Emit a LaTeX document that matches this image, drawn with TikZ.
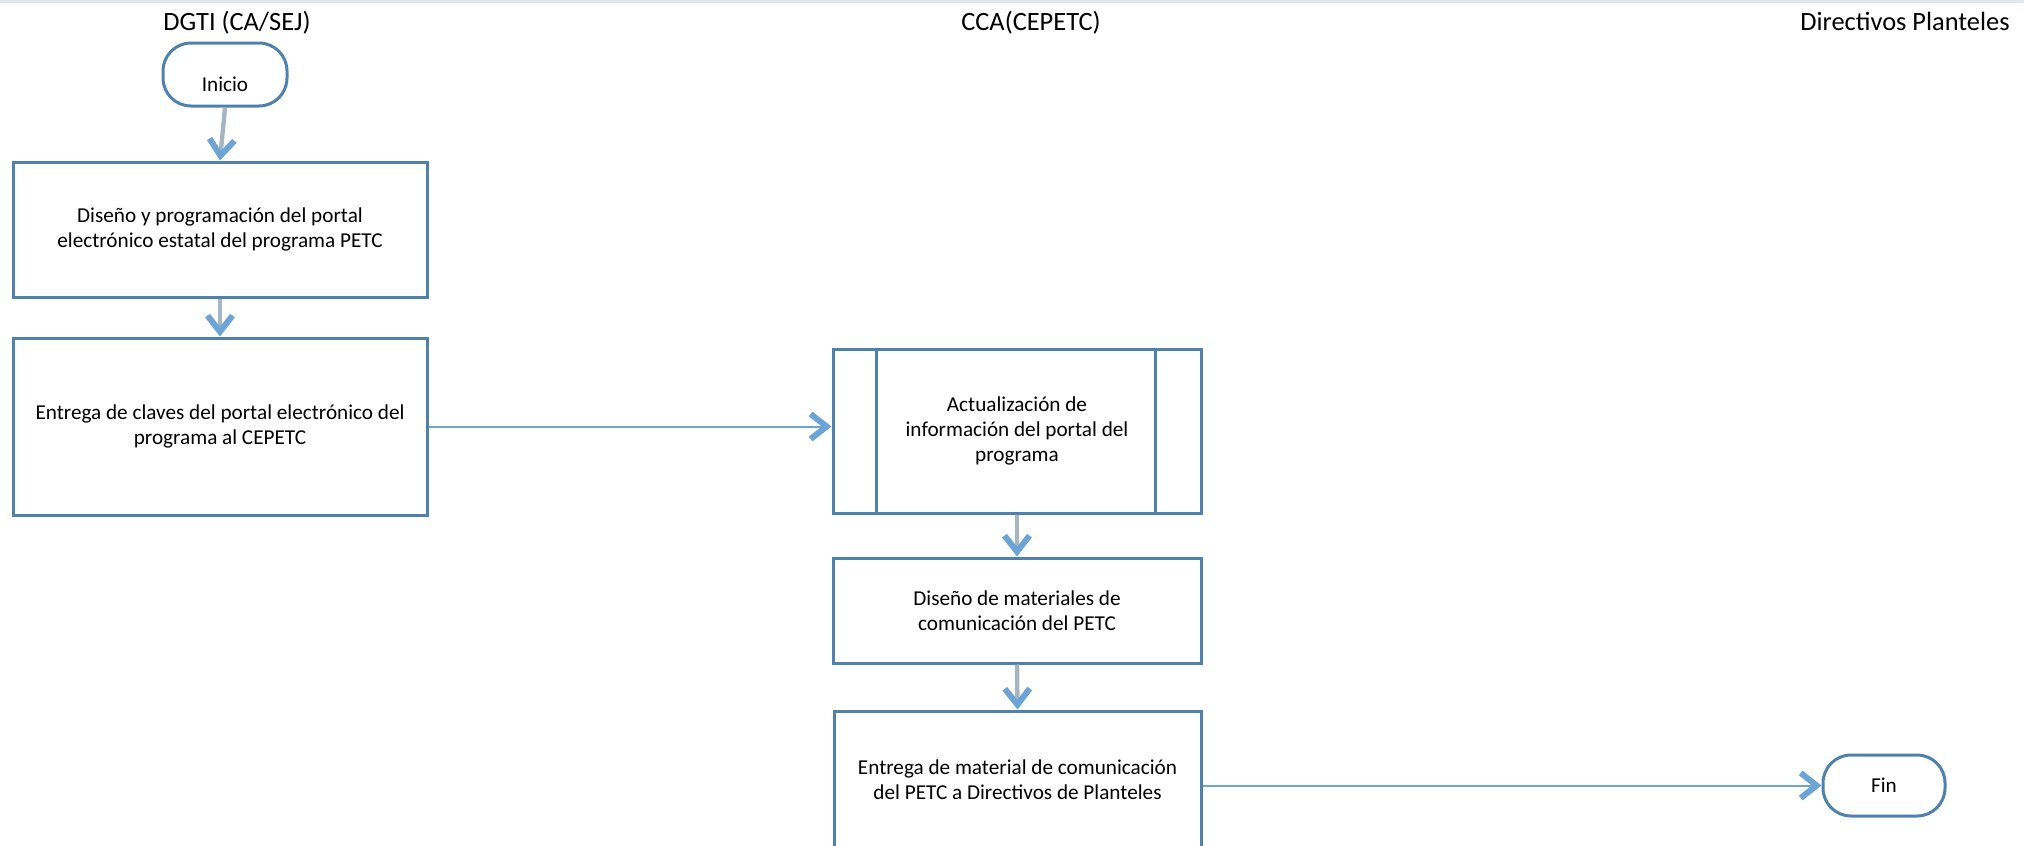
\documentclass[tikz,border=0pt]{standalone}
\usepackage{fontspec}
\setmainfont{Carlito}
\usetikzlibrary{arrows.meta}
\definecolor{boxblue}{RGB}{79,129,175}
\definecolor{shaftgray}{RGB}{166,180,196}
\definecolor{tipblue}{RGB}{108,164,214}
\definecolor{bandblue}{RGB}{222,231,242}
\begin{document}
\begin{tikzpicture}[x=0.5pt,y=-0.5pt,
  every node/.style={font=\fontsize{10.6pt}{12.5pt}\selectfont, text=black},
  procbox/.style={draw=boxblue, line width=1.5pt, fill=white, align=center, inner sep=0pt},
  term/.style={draw=boxblue, line width=1.5pt, rounded corners=14pt, fill=white,
    minimum width=62pt, minimum height=31.5pt, inner sep=0pt},
  lane/.style={font=\fontsize{13.2pt}{15pt}\selectfont, anchor=base},
  chevron/.style={-{Straight Barb[length=8pt, width=12.5pt, line width=3pt, color=tipblue]}},
  down/.style={chevron, draw=shaftgray, line width=2.2pt},
  across/.style={chevron, draw=tipblue, line width=1pt},
]
\clip (0,0) rectangle (2024,846);
\useasboundingbox (0,0) rectangle (2024,846);
\fill[bandblue] (0,0) rectangle (2024,3);

% lane headings
\node[lane] (lane1) at (237,30) {DGTI (CA/SEJ)};
\node[lane] (lane2) at (1031,30) {CCA(CEPETC)};
\node[lane] (lane3) at (1905,30) {Directivos Planteles};

% steps
\node[term, label={[yshift=-5pt]center:Inicio}] (inicio) at (225,74.5) {};
\node[procbox, minimum width=207pt, minimum height=67.5pt] (portal) at (220,229.5)
  {Diseño y programación del portal\\electrónico estatal del programa PETC};
\node[procbox, minimum width=207pt, minimum height=88.5pt] (claves) at (220,426.5)
  {Entrega de claves del portal electrónico del\\programa al CEPETC};
\node[procbox, minimum width=184pt, minimum height=82pt] (actual) at (1017,431)
  {Actualización de\\información del portal del\\programa};
\draw[boxblue, line width=1.5pt] ([xshift=22.5pt]actual.north west) -- ([xshift=22.5pt]actual.south west);
\draw[boxblue, line width=1.5pt] ([xshift=-23.5pt]actual.north east) -- ([xshift=-23.5pt]actual.south east);
\node[procbox, minimum width=184pt, minimum height=52.5pt] (disenio) at (1017,610.5)
  {Diseño de materiales de\\comunicación del PETC};
\node[procbox, minimum width=183.5pt, minimum height=69pt] (entrega) at (1017.5,780)
  {Entrega de material de comunicación\\del PETC a Directivos de Planteles};
\node[term, minimum width=61pt, minimum height=30.5pt] (fin) at (1884,785.5) {Fin};

% connectors
\draw[down] (inicio.south) -- (portal.north);
\draw[down] (portal.south) -- (claves.north);
\draw[down] (actual.south) -- (disenio.north);
\draw[down] (disenio.south) -- (entrega.north);
\draw[across] (claves.east) -- (claves.east -| actual.west);
\draw[across] (entrega.east |- fin.west) -- (fin.west);
\end{tikzpicture}
\end{document}
